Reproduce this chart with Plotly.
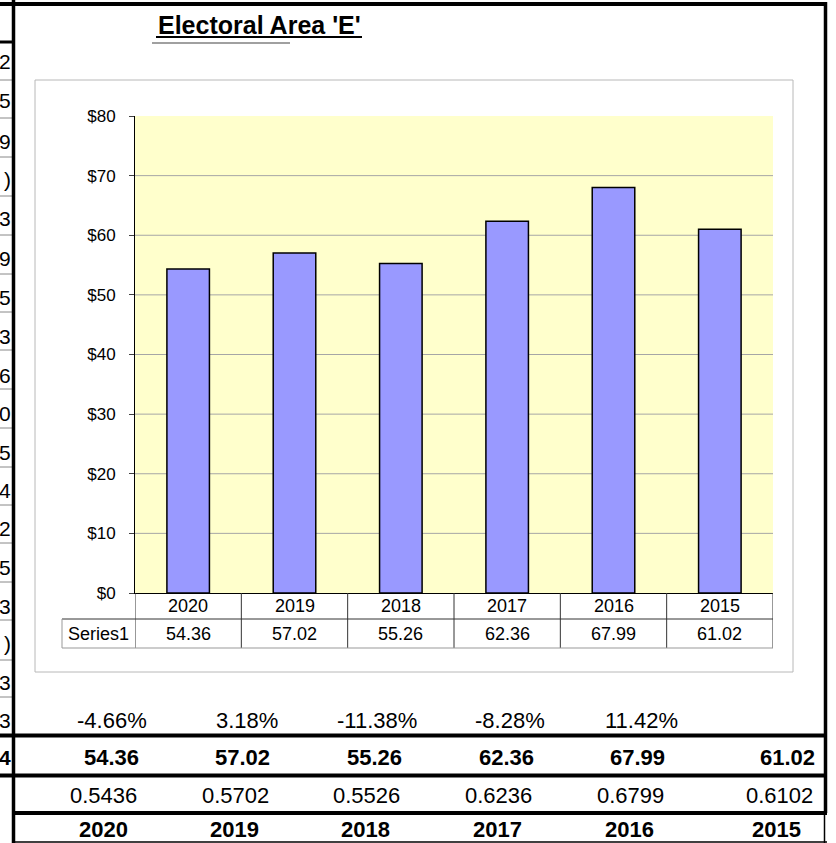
import plotly.graph_objects as go

# ---- data ----
years = ["2020", "2019", "2018", "2017", "2016", "2015"]
values = [54.36, 57.02, 55.26, 62.36, 67.99, 61.02]
pct_change = ["-4.66%", "3.18%", "-11.38%", "-8.28%", "11.42%", ""]
ratios = ["0.5436", "0.5702", "0.5526", "0.6236", "0.6799", "0.6102"]
y_ticks = [0, 10, 20, 30, 40, 50, 60, 70, 80]
series_name = "Series1"
title_text = "Electoral Area 'E'"
# last visible characters of the neighbouring (clipped) sheet column
side_chars = ["2", "5", "9", ")", "3", "9", "5", "3", "6", "0",
              "5", "4", "2", "5", "3", ")", "3", "3", "4"]

# ---- page geometry (pixels) ----
W, H = 836, 843
FONT = "Arial, Liberation Sans, sans-serif"


def fx(x):
    return x / W


def fy(y):
    return 1 - y / H


PLOT_L, PLOT_R, PLOT_T, PLOT_B = 135, 773, 116, 593
side_rows_y = [62, 101, 141, 180, 219, 258, 297, 336, 375, 413,
               452, 490, 528, 567, 606, 643, 682, 720, 757]
side_lines_y = [80, 118, 157, 196, 235, 274, 312, 350, 389, 428,
                467, 505, 543, 582, 620, 660, 697]

fig = go.Figure(
    go.Bar(
        x=years,
        y=values,
        marker=dict(color="#9999FF", line=dict(color="black", width=1.5)),
        hoverinfo="skip",
    )
)

fig.update_layout(
    width=W,
    height=H,
    margin=dict(l=0, r=0, t=0, b=0, pad=0, autoexpand=False),
    paper_bgcolor="white",
    plot_bgcolor="#FFFFCC",
    bargap=0.6,
    showlegend=False,
    font=dict(family=FONT, color="black", size=18),
)
fig.update_xaxes(
    domain=[fx(PLOT_L), fx(PLOT_R)],
    type="category",
    range=[-0.5, len(years) - 0.5],
    automargin=False,
    showticklabels=False,
    ticks="",
    showgrid=False,
    showline=True,
    linecolor="black",
    linewidth=1,
    zeroline=False,
)
fig.update_yaxes(
    domain=[fy(PLOT_B), fy(PLOT_T)],
    range=[0, 80],
    automargin=False,
    tickvals=y_ticks,
    ticktext=[f"${v}" for v in y_ticks],
    ticks="outside",
    ticklen=5,
    tickcolor="#404040",
    tickfont=dict(size=17),
    ticklabelstandoff=10,
    showline=True,
    linecolor="black",
    linewidth=1,
    showgrid=False,
    zeroline=False,
)

shapes = []
annotations = []


def hline(y, x0, x1, color="black", width=1, layer="above"):
    shapes.append(dict(type="line", xref="paper", yref="paper",
                       x0=fx(x0), x1=fx(x1), y0=fy(y), y1=fy(y),
                       line=dict(color=color, width=width), layer=layer))


def vline(x, y0, y1, color="black", width=1, layer="above"):
    shapes.append(dict(type="line", xref="paper", yref="paper",
                       x0=fx(x), x1=fx(x), y0=fy(y0), y1=fy(y1),
                       line=dict(color=color, width=width), layer=layer))


def text(x, y, s, size=18, bold=False, anchor="center"):
    annotations.append(dict(xref="paper", yref="paper", x=fx(x), y=fy(y),
                            text=f"<b>{s}</b>" if bold else s,
                            showarrow=False, xanchor=anchor, yanchor="middle",
                            borderpad=0,
                            font=dict(family=FONT, size=size, color="black")))


# value gridlines
for v in y_ticks[1:-1]:
    shapes.append(dict(type="line", xref="x domain", yref="y",
                       x0=0, x1=1, y0=v, y1=v,
                       line=dict(color="#A6A6A6", width=1), layer="below"))

# chart area frame
shapes.append(dict(type="rect", xref="paper", yref="paper",
                   x0=fx(35), x1=fx(793), y0=fy(80), y1=fy(672),
                   line=dict(color="#B8B8B8", width=1), fillcolor="rgba(0,0,0,0)",
                   layer="below"))

# data table under the plot
ROW1_Y, ROW2_Y, TABLE_B = 619, 648, 648
for i in range(len(years) + 1):
    shapes.append(dict(type="line", xref="x", yref="paper",
                       x0=i - 0.5, x1=i - 0.5, y0=fy(PLOT_B), y1=fy(TABLE_B),
                       line=dict(color="#333333", width=1)))
hline(ROW1_Y, 62, PLOT_R, color="#333333")
hline(ROW2_Y, 62, PLOT_R, color="#999999")
vline(62, ROW1_Y, ROW2_Y, color="#999999")

for i, (yr, v) in enumerate(zip(years, values)):
    annotations.append(dict(xref="x", yref="paper", x=i, y=fy(606), text=yr,
                            showarrow=False, xanchor="center", yanchor="middle",
                            font=dict(family=FONT, size=18, color="black")))
    annotations.append(dict(xref="x", yref="paper", x=i, y=fy(634), text=f"{v:.2f}",
                            showarrow=False, xanchor="center", yanchor="middle",
                            font=dict(family=FONT, size=18, color="black")))
text(98, 634, series_name, size=18)

# title cell
text(259, 25, title_text, size=25, bold=True)
hline(37, 156, 362, color="black", width=2)
hline(43, 152, 290, color="#A0A0A0", width=2)

# sheet grid: left column fragments
for y in side_lines_y:
    hline(y, 0, 13, color="#888888", width=1)
for i, (c, y) in enumerate(zip(side_chars, side_rows_y)):
    text(12, y, c, size=21, bold=(i == len(side_chars) - 1), anchor="right")

# sheet grid: thick borders
hline(4, 0, 827, width=4)
hline(42, 0, 13, width=3)
vline(13.5, 0, 843, width=3.5)
vline(825.5, 2, 813, width=3.5)
vline(824.5, 813, 843, width=1.5)
hline(735.5, 0, 827, width=4)
hline(775.5, 0, 827, width=4)
hline(813, 13, 827, width=4)
hline(842, 13, 827, width=1.5)

# summary rows below the chart
pct_x = [112, 247, 377, 510, 641, 775]
val_x = [111, 242, 374, 506, 637, 787]
ratio_x = [103, 235, 366, 498, 630, 779]
year_x = [103, 234, 365, 497, 629, 776]
for i in range(len(years)):
    if pct_change[i]:
        text(pct_x[i], 720, pct_change[i], size=22)
    text(val_x[i], 757, f"{values[i]:.2f}", size=22, bold=True)
    text(ratio_x[i], 795, ratios[i], size=22)
    text(year_x[i], 829, years[i], size=22, bold=True)

fig.update_layout(shapes=shapes, annotations=annotations)
fig.write_html("out.html")
